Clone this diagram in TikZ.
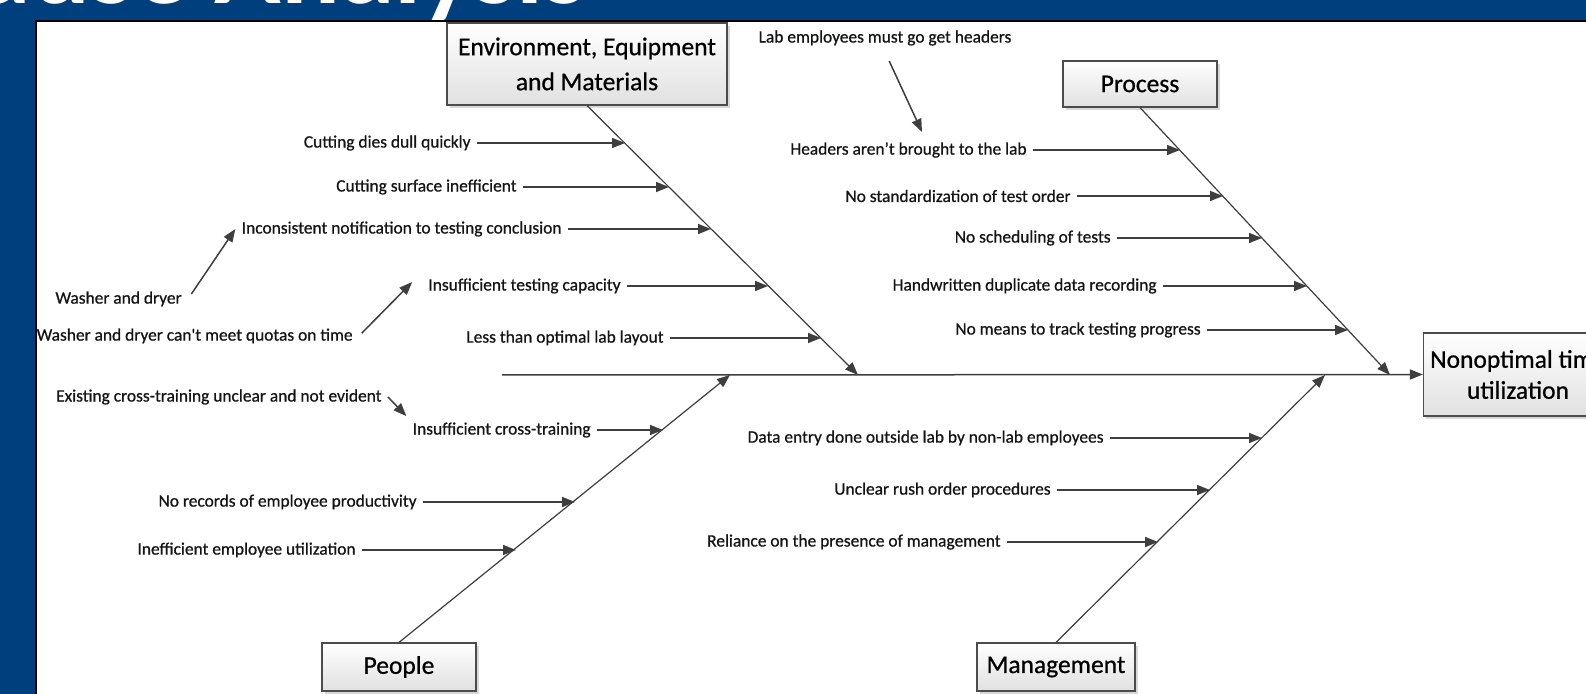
\documentclass[tikz,border=0pt]{standalone}
\usepackage{fontspec}
\setmainfont{Carlito}
\newfontfamily\heavyfam{Carlito}[FakeBold=0.7]
\usepackage{xcolor}
\usepackage{tikz}
\usetikzlibrary{arrows.meta, shadows}

\definecolor{slideblue}{RGB}{0,63,126}
\definecolor{boneline}{RGB}{62,62,62}
\newcommand{\causefont}{\heavyfam\fontsize{8.7}{10}\selectfont}
\newcommand{\boxfont}{\heavyfam\fontsize{12.75}{15.5}\selectfont}

\begin{document}
\begin{tikzpicture}[
    x=0.5pt, y=-0.5pt,
    cause/.style={anchor=east, font=\causefont, text=black!92, inner sep=3pt},
    catbox/.style={rectangle, draw=black!70, line width=0.6pt, top color=white, bottom color=black!12, drop shadow={shadow xshift=1.5pt, shadow yshift=-1.5pt, opacity=0.3}, font=\boxfont, text=black, align=center},
    arrow/.style={-{Triangle[length=6.5pt, width=5pt]}, line width=0.75pt, draw=boneline},
    bone/.style={-{Triangle[length=6.5pt, width=5pt]}, line width=0.6pt, draw=boneline}
  ]
    \useasboundingbox (0,0) rectangle (1586,694);
    \clip (0,0) rectangle (1586,694);

    % slide background and white panel
    \fill[slideblue] (0,0) rectangle (1586,694);
    \node[anchor=base east, font=\fontsize{55}{60}\selectfont\bfseries, text=white, inner sep=0pt] (title) at (588,4) {Cause Analysis};
    \fill[white] (36,21) rectangle (1600,710);
    \draw[black, line width=1pt] (36,710) -- (36,21) -- (1600,21);

    % categories and effect
    \node[catbox, minimum width=140pt, minimum height=41pt] (env) at (587,64) {Environment, Equipment\\[2pt]and Materials};
    \node[catbox, minimum width=77pt, minimum height=23pt] (proc) at (1140,84) {Process};
    \node[catbox, minimum width=77pt, minimum height=24pt] (people) at (399,667) {People};
    \node[catbox, minimum width=79pt, minimum height=24pt] (mgmt) at (1056,667) {Management};
    \node[catbox, minimum width=94pt, minimum height=41.5pt] (effect) at (1518,374.5) {Nonoptimal time\\utilization};

    % spine and bones
    \coordinate (tail) at (502,375);
    \coordinate (envtip) at (858,375);
    \coordinate (proctip) at (1390,375);
    \coordinate (peoptip) at (730,375);
    \coordinate (mgmttip) at (1325,375);
    \draw[arrow] (tail) -- (effect.west);
    \draw[bone] (env.south) -- (envtip);
    \draw[bone] (proc.south) -- (proctip);
    \draw[bone] (people.north) -- (peoptip);
    \draw[bone] (mgmt.north) -- (mgmttip);

    % environment, equipment and materials
    \node[cause] (c1) at (477,143) {Cutting dies dull quickly};
    \node[cause] (c2) at (523,187) {Cutting surface inefficient};
    \node[cause] (c3) at (568,229) {Inconsistent notification to testing conclusion};
    \node[cause] (c4) at (627,286) {Insufficient testing capacity};
    \node[cause] (c5) at (670,338) {Less than optimal lab layout};
    \coordinate (e1) at (625,143);
    \coordinate (e2) at (669,187);
    \coordinate (e3) at (711,229);
    \coordinate (e4) at (768,286);
    \coordinate (e5) at (821,338);
    \foreach \i in {1,...,5} {
      \draw[arrow] (c\i.east) -- (e\i);
    }

    % process
    \node[cause] (p1) at (1033,150) {Headers aren’t brought to the lab};
    \node[cause] (p2) at (1077,196) {No standardization of test order};
    \node[cause] (p3) at (1117,238) {No scheduling of tests};
    \node[cause] (p4) at (1163,286) {Handwritten duplicate data recording};
    \node[cause] (p5) at (1207,330) {No means to track testing progress};
    \coordinate (q1) at (1180,150);
    \coordinate (q2) at (1223,196);
    \coordinate (q3) at (1262,238);
    \coordinate (q4) at (1307,286);
    \coordinate (q5) at (1348,330);
    \foreach \i in {1,...,5} {
      \draw[arrow] (p\i.east) -- (q\i);
    }

    % people
    \node[cause] (h1) at (597,430) {Insufficient cross-training};
    \node[cause] (h2) at (423,502) {No records of employee productivity};
    \node[cause] (h3) at (362,550) {Inefficient employee utilization};
    \coordinate (k1) at (663,430);
    \coordinate (k2) at (575,502);
    \coordinate (k3) at (516,550);
    \foreach \i in {1,2,3} {
      \draw[arrow] (h\i.east) -- (k\i);
    }

    % management
    \node[cause] (m1) at (1110,438) {Data entry done outside lab by non-lab employees};
    \node[cause] (m2) at (1057,490) {Unclear rush order procedures};
    \node[cause] (m3) at (1007,542) {Reliance on the presence of management};
    \coordinate (n1) at (1262,438);
    \coordinate (n2) at (1210,490);
    \coordinate (n3) at (1158,542);
    \foreach \i in {1,2,3} {
      \draw[arrow] (m\i.east) -- (n\i);
    }

    % sub-causes
    \node[cause, anchor=center] (s1) at (885,38) {Lab employees must go get headers};
    \node[cause] (s2) at (188,299) {Washer and dryer};
    \node[cause] (s3) at (359,336) {Washer and dryer can\textquotesingle t meet quotas on time};
    \node[cause] (s4) at (388,397) {Existing cross-training unclear and not evident};
    \coordinate (s1tip) at (922,132);
    \draw[arrow, shorten <=5pt] (s1.south) -- (s1tip);
    \draw[arrow, shorten <=3pt] (s2.east) -- (c3.west);
    \draw[arrow, shorten <=2pt, shorten >=7pt] (s3.east) -- (c4.north west);
    \draw[arrow] (s4.east) -- (h1.north west);
  \end{tikzpicture}
\end{document}
